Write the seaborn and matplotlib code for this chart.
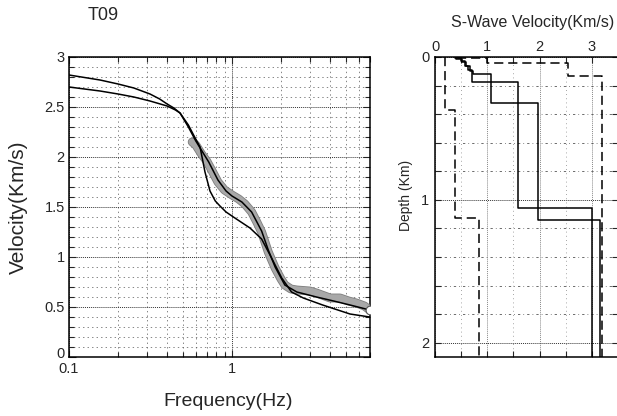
import matplotlib
matplotlib.use("Agg")
import matplotlib.pyplot as plt
import seaborn as sns
import pandas as pd
from matplotlib.ticker import FixedLocator, FixedFormatter, NullFormatter
from matplotlib.transforms import ScaledTranslation
import matplotlib.patheffects as pe

# ---------------- data ----------------
title = "T09"

# observed dispersion (gray band)
freq_obs = [0.57, 0.60, 0.65, 0.70, 0.75, 0.82, 0.90, 1.00, 1.10, 1.20, 1.32, 1.42,
            1.52, 1.67, 1.84, 2.00, 2.11, 2.30, 2.50, 3.00, 3.30, 4.00, 4.60, 5.20,
            5.80, 6.50, 7.00]
vel_obs = [2.15, 2.12, 2.03, 1.96, 1.87, 1.75, 1.67, 1.62, 1.58, 1.53, 1.45, 1.35,
           1.25, 1.05, 0.89, 0.78, 0.72, 0.68, 0.67, 0.66, 0.64, 0.59, 0.59, 0.56,
           0.54, 0.51, 0.47]

# theoretical curve of model B (fits data)
freq_model_b = [0.10, 0.155, 0.20, 0.25, 0.314, 0.36, 0.40, 0.44, 0.48, 0.54, 0.60,
                0.66, 0.72, 0.82, 0.92, 1.00, 1.15, 1.32, 1.52, 1.67, 1.84, 2.11,
                2.50, 3.30, 4.20, 5.30, 7.00]
vel_model_b = [2.82, 2.77, 2.73, 2.69, 2.63, 2.58, 2.53, 2.49, 2.44, 2.30, 2.16,
               2.05, 1.95, 1.77, 1.66, 1.61, 1.55, 1.45, 1.26, 1.07, 0.90, 0.72,
               0.65, 0.60, 0.56, 0.52, 0.47]

# theoretical curve of model A (steeper)
freq_model_a = [0.10, 0.155, 0.20, 0.25, 0.314, 0.40, 0.45, 0.48, 0.54, 0.59, 0.637,
                0.683, 0.733, 0.79, 0.844, 0.92, 1.02, 1.29, 1.52, 1.75, 2.02, 2.32,
                2.74, 3.60, 5.30, 7.00]
vel_model_a = [2.70, 2.66, 2.63, 2.60, 2.56, 2.51, 2.47, 2.44, 2.32, 2.20, 2.10,
               1.85, 1.66, 1.56, 1.51, 1.45, 1.40, 1.29, 1.18, 0.99, 0.79, 0.65,
               0.59, 0.52, 0.43, 0.40]

# S-wave velocity profiles (layer velocity, layer top depth)
prof_a_vs = [0.38, 0.50, 0.57, 0.63, 0.70, 1.59, 3.00]
prof_a_top = [0.0, 0.01, 0.03, 0.06, 0.09, 0.175, 1.06]
prof_b_vs = [0.40, 0.52, 0.60, 0.66, 0.73, 1.08, 1.97, 3.15]
prof_b_top = [0.0, 0.015, 0.035, 0.065, 0.095, 0.12, 0.32, 1.14]
prof_lower_vs = [0.19, 0.38, 0.84]
prof_lower_top = [0.0, 0.37, 1.13]
prof_upper_vs = [0.44, 1.00, 2.54, 3.19]
prof_upper_top = [0.0, 0.006, 0.04, 0.135]
max_depth = 2.1

vel_ticks = [0, 0.5, 1, 1.5, 2, 2.5, 3]
vel_tick_labels = ["0", "0.5", "1", "1.5", "2", "2.5", "3"]
freq_ticks = [0.1, 1]
freq_tick_labels = ["0.1", "1"]
vs_ticks = [0, 1, 2, 3]
vs_tick_labels = ["0", "1", "2", "3"]
depth_ticks = [0, 1, 2]
depth_tick_labels = ["0", "1", "2"]


def stairs(vs, tops, bottom):
    xs, ys = [], []
    for i, v in enumerate(vs):
        top = tops[i]
        bot = tops[i + 1] if i + 1 < len(tops) else bottom
        xs += [v, v]
        ys += [top, bot]
    return pd.DataFrame({"vs": xs, "depth": ys})


# ---------------- style ----------------
sns.set_style("ticks")
plt.rcParams["font.family"] = ["Liberation Sans", "DejaVu Sans"]
plt.rcParams["xtick.direction"] = "in"
plt.rcParams["ytick.direction"] = "in"

fig = plt.figure(figsize=(6.17, 4.16), dpi=100)
W, H = 617, 416
ax1 = fig.add_axes([69 / W, (H - 357) / H, 301 / W, 300 / H])
ax2 = fig.add_axes([435 / W, (H - 357) / H, 183 / W, 300 / H])

minor_grid = dict(color="#555555", linestyle=(0, (2, 4.5)), linewidth=0.5)
major_grid = dict(color="#333333", linestyle=(0, (1, 1)), linewidth=0.7)

# ---------------- left panel ----------------
ax1.set_xscale("log")
ax1.set_xlim(0.1, 7.03)
ax1.set_ylim(0, 3)

df_obs = pd.DataFrame({"f": freq_obs, "v": vel_obs})
sns.lineplot(data=df_obs, x="f", y="v", sort=False, estimator=None, ax=ax1,
             color="#a8a8a8", linewidth=5.2, zorder=3,
             path_effects=[pe.Stroke(linewidth=6.4, foreground="#7e7e7e"), pe.Normal()])
sns.scatterplot(x=[freq_obs[-1]], y=[vel_obs[-1]], ax=ax1, s=40, marker="o",
                facecolor="white", edgecolor="#555555", linewidth=0.8, zorder=5)
sns.lineplot(x=freq_model_b, y=vel_model_b, sort=False, estimator=None, ax=ax1,
             color="black", linewidth=1.1, zorder=4)
sns.lineplot(x=freq_model_a, y=vel_model_a, sort=False, estimator=None, ax=ax1,
             color="black", linewidth=1.1, zorder=4)

ax1.xaxis.set_major_locator(FixedLocator(freq_ticks))
ax1.xaxis.set_major_formatter(FixedFormatter(freq_tick_labels))
ax1.xaxis.set_minor_locator(FixedLocator([0.2, 0.3, 0.4, 0.5, 0.6, 0.7, 0.8, 0.9,
                                          2, 3, 4, 5, 6, 7]))
ax1.xaxis.set_minor_formatter(NullFormatter())
ax1.yaxis.set_major_locator(FixedLocator(vel_ticks))
ax1.yaxis.set_major_formatter(FixedFormatter(vel_tick_labels))
ax1.yaxis.set_minor_locator(FixedLocator([i / 10 for i in range(31)]))
ax1.grid(which="major", **major_grid)
ax1.grid(which="minor", **minor_grid)
ax1.tick_params(which="both", top=True, right=True, labelsize=10.5, width=0.8)
ax1.tick_params(axis="x", pad=3.5)
ax1.tick_params(axis="y", pad=3)
ax1.tick_params(which="major", length=5)
ax1.tick_params(which="minor", length=3.5)
for s in ax1.spines.values():
    s.set_linewidth(1.1)
    s.set_color("black")
ax1.set_xlabel("Frequency(Hz)", fontsize=14)
ax1.set_ylabel("Velocity(Km/s)", fontsize=15)
ax1.xaxis.set_label_coords(0.528, -0.12)
ax1.yaxis.set_label_coords(-0.135, 0.50)
fig.text(103 / W, 1 - 15 / H, title, fontsize=13, ha="center", va="center")

# lift the "0" velocity label a little so it does not collide with "0.1"
fig.canvas.draw()
zero_lbl = ax1.yaxis.get_major_ticks()[0].label1
zero_lbl.set_transform(zero_lbl.get_transform() + ScaledTranslation(0, 4 / 100, fig.dpi_scale_trans))

# ---------------- right panel ----------------
ax2.set_xlim(0, 3.5)
ax2.set_ylim(max_depth, 0)

for vs, tops, style in [(prof_lower_vs, prof_lower_top, "dash"),
                        (prof_upper_vs, prof_upper_top, "dash"),
                        (prof_a_vs, prof_a_top, "solid"),
                        (prof_b_vs, prof_b_top, "solid")]:
    d = stairs(vs, tops, max_depth)
    sns.lineplot(data=d, x="vs", y="depth", sort=False, estimator=None,
                 ax=ax2, color="black", linewidth=1.1, zorder=4)
    if style == "dash":
        ax2.lines[-1].set_dashes((6, 3.2))

ax2.xaxis.set_major_locator(FixedLocator(vs_ticks))
ax2.xaxis.set_major_formatter(FixedFormatter(vs_tick_labels))
ax2.xaxis.set_minor_locator(FixedLocator([0.5, 1.5, 2.5]))
ax2.yaxis.set_major_locator(FixedLocator(depth_ticks))
ax2.yaxis.set_major_formatter(FixedFormatter(depth_tick_labels))
ax2.yaxis.set_minor_locator(FixedLocator([0.2, 0.4, 0.6, 0.8, 1.2, 1.4, 1.6, 1.8]))
ax2.xaxis.tick_top()
ax2.grid(which="major", axis="x", color="#888888", linestyle=(0, (1, 1)), linewidth=0.7)
ax2.grid(which="minor", axis="x", color="#888888", linestyle=(0, (1, 4)), linewidth=0.6)
ax2.grid(which="major", axis="y", **major_grid)
ax2.grid(which="minor", axis="y", color="#444444", linestyle=(0, (3, 4, 1, 4)), linewidth=0.55)
ax2.tick_params(axis="x", which="both", top=True, bottom=True, labeltop=True,
                labelbottom=False, labelsize=10.5, pad=2, width=0.8, length=4)
ax2.tick_params(axis="y", which="both", left=True, right=True, labelsize=10.5,
                pad=4, width=0.8, length=4)
for s in ax2.spines.values():
    s.set_linewidth(1.1)
    s.set_color("black")
ax2.xaxis.set_label_position("top")
ax2.set_xlabel("S-Wave Velocity(Km/s)", fontsize=11.5)
ax2.set_ylabel("Depth (Km)", fontsize=10)
ax2.xaxis.set_label_coords(0.535, 1.10)
ax2.yaxis.set_label_coords(-0.12, 0.54)

fig.savefig("out.png", dpi=100)
